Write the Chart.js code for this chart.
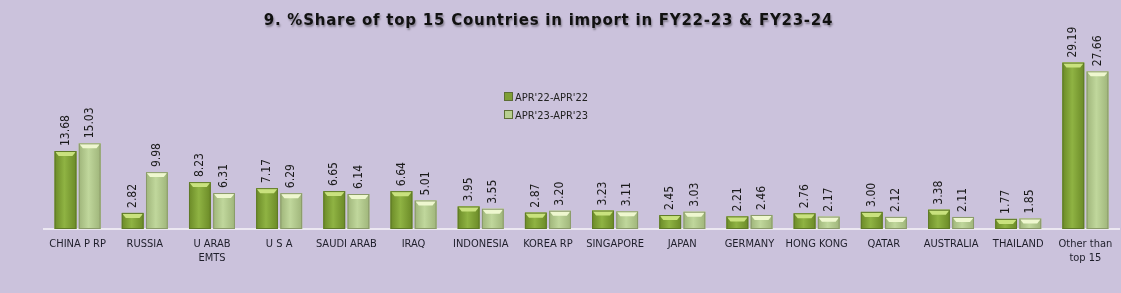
<!DOCTYPE html>
<html>
<head>
<meta charset="utf-8">
<script src="https://cdn.jsdelivr.net/npm/chart.js@4.4.1/dist/chart.umd.min.js"></script>
<style>
  html, body { margin: 0; padding: 0; background: #cbc2dc; }
  #wrap { position: relative; width: 1121px; height: 293px; }
  #title {
    position: absolute; left: -12px; top: 11px; width: 1121px; text-align: center;
    font: bold 15px "DejaVu Sans", sans-serif; color: #111; letter-spacing: 0.75px;
    text-shadow: 1px 2px 2px rgba(0,0,0,0.35);
  }
  #legend {
    position: absolute; left: 504px; top: 89px;
    font: 11px "DejaVu Sans Condensed", "Liberation Sans", sans-serif; color: #222;
  }
  #legend div { height: 18px; line-height: 18px; }
  #legend span { display: inline-block; width: 7px; height: 7px; margin-right: 2px; border: 1px solid #5d6e35; vertical-align: 0px; }
</style>
</head>
<body>
<div id="wrap">
  <canvas id="importChart" width="1121" height="293"></canvas>
  <div id="title">9. %Share of top 15 Countries in import in FY22-23 &amp; FY23-24</div>
  <div id="legend">
    <div><span style="background:#7f9f35"></span>APR'22-APR'22</div>
    <div><span style="background:#b8cf90"></span>APR'23-APR'23</div>
  </div>
</div>
<script>
const countries = ['CHINA P RP', 'RUSSIA', ['U ARAB', 'EMTS'], 'U S A', 'SAUDI ARAB', 'IRAQ', 'INDONESIA',
  'KOREA RP', 'SINGAPORE', 'JAPAN', 'GERMANY', 'HONG KONG', 'QATAR', 'AUSTRALIA', 'THAILAND', ['Other than', 'top 15']];
const share2223 = [13.68, 2.82, 8.23, 7.17, 6.65, 6.64, 3.95, 2.87, 3.23, 2.45, 2.21, 2.76, 3.00, 3.38, 1.77, 29.19];
const share2324 = [15.03, 9.98, 6.31, 6.29, 6.14, 5.01, 3.55, 3.20, 3.11, 3.03, 2.46, 2.17, 2.12, 2.11, 1.85, 27.66];

const shades = [
  { edge: '#6b8a27', mid: '#8fb343', top: '#c9e27e', line: '#5f7a28' },
  { edge: '#9fb57a', mid: '#c0d79c', top: '#eef7cf', line: '#8a9a6a' }
];

// bevelled bar look + rotated value labels
const barLook = {
  id: 'barLook',
  afterDatasetsDraw(chart) {
    const ctx = chart.ctx;
    chart.data.datasets.forEach((ds, i) => {
      const s = shades[i];
      chart.getDatasetMeta(i).data.forEach((bar, j) => {
        const w = bar.width, x0 = bar.x - w / 2, x1 = bar.x + w / 2, top = bar.y, bot = bar.base;
        ctx.save();
        const g = ctx.createLinearGradient(x0, 0, x1, 0);
        g.addColorStop(0, s.edge);
        g.addColorStop(0.45, s.mid);
        g.addColorStop(1, s.edge);
        ctx.fillStyle = g;
        ctx.fillRect(x0, top, w, bot - top);
        const b = Math.min(5, (bot - top) / 2);
        ctx.fillStyle = s.top;
        ctx.beginPath();
        ctx.moveTo(x0, top); ctx.lineTo(x1, top); ctx.lineTo(x1 - 4, top + b); ctx.lineTo(x0 + 4, top + b);
        ctx.closePath(); ctx.fill();
        ctx.strokeStyle = s.line; ctx.lineWidth = 1;
        ctx.strokeRect(x0 + 0.5, top + 0.5, w - 1, bot - top - 1);
        ctx.translate(bar.x, top - 5);
        ctx.rotate(-Math.PI / 2);
        ctx.fillStyle = '#1a1a1a';
        ctx.font = '12px "DejaVu Sans Condensed", "Liberation Sans", sans-serif';
        ctx.textAlign = 'left';
        ctx.textBaseline = 'middle';
        ctx.fillText(ds.data[j].toFixed(2), 0, 0);
        ctx.restore();
      });
    });
  }
};

new Chart(document.getElementById('importChart'), {
  type: 'bar',
  data: {
    labels: countries,
    datasets: [
      { label: "APR'22-APR'22", data: share2223, backgroundColor: '#8fb343' },
      { label: "APR'23-APR'23", data: share2324, backgroundColor: '#c0d79c' }
    ]
  },
  options: {
    responsive: false,
    animation: false,
    layout: { padding: { top: 58, left: 44, right: 2, bottom: 0 } },
    datasets: { bar: { categoryPercentage: 0.72, barPercentage: 0.9 } },
    plugins: { legend: { display: false }, title: { display: false }, tooltip: { enabled: false } },
    scales: {
      x: {
        grid: { display: false },
        border: { display: true, color: '#ece8f2', width: 2 },
        ticks: {
          color: '#1e1e2a', padding: 0, maxRotation: 0, autoSkip: false,
          font: { family: '"DejaVu Sans Condensed", "Liberation Sans", sans-serif', size: 11, lineHeight: 1.3 }
        },
        afterFit(scale) { scale.height = 64; }
      },
      y: { display: false, min: 0, max: 30 }
    }
  },
  plugins: [barLook]
});
</script>
</body>
</html>
